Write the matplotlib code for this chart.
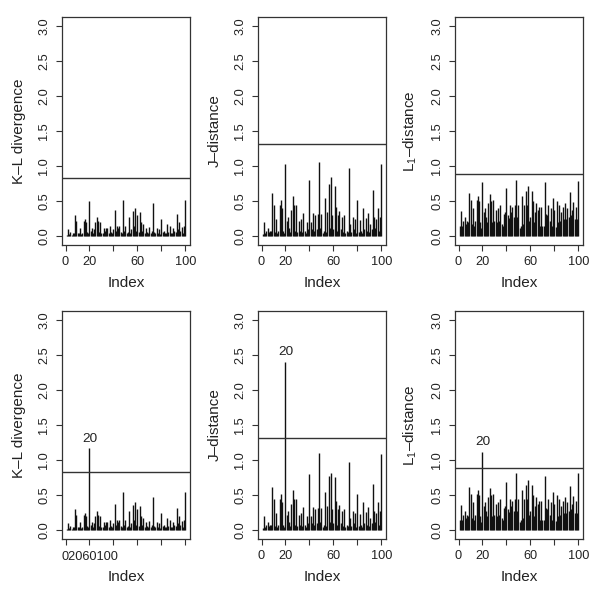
import numpy as np
import matplotlib
matplotlib.use("Agg")
import matplotlib.pyplot as plt
import matplotlib.transforms as mtransforms

plt.rcParams['font.family'] = ['Liberation Sans', 'DejaVu Sans']
plt.rcParams['mathtext.fontset'] = 'custom'
plt.rcParams['mathtext.rm'] = 'Liberation Sans'

index = np.arange(1, 101)

# top row values
kl_top = [0.02, 0.10, 0.03, 0.06, 0.02, 0.04, 0.05, 0.30, 0.22, 0.05,
          0.04, 0.12, 0.03, 0.05, 0.22, 0.25, 0.20, 0.06, 0.04, 0.50,
          0.08, 0.12, 0.05, 0.10, 0.20, 0.28, 0.22, 0.06, 0.21, 0.04,
          0.05, 0.12, 0.07, 0.12, 0.12, 0.05, 0.15, 0.06, 0.04, 0.10,
          0.38, 0.08, 0.15, 0.12, 0.14, 0.06, 0.05, 0.52, 0.08, 0.15,
          0.04, 0.06, 0.27, 0.05, 0.10, 0.36, 0.15, 0.40, 0.08, 0.30,
          0.06, 0.35, 0.20, 0.08, 0.17, 0.05, 0.12, 0.06, 0.04, 0.13,
          0.05, 0.07, 0.48, 0.06, 0.04, 0.12, 0.05, 0.10, 0.03, 0.25,
          0.06, 0.08, 0.04, 0.05, 0.18, 0.06, 0.15, 0.05, 0.04, 0.12,
          0.08, 0.06, 0.32, 0.10, 0.20, 0.07, 0.13, 0.05, 0.14, 0.51]

j_top = [0.03, 0.20, 0.05, 0.08, 0.12, 0.06, 0.07, 0.08, 0.62, 0.44,
         0.06, 0.25, 0.05, 0.07, 0.45, 0.52, 0.40, 0.08, 0.05, 1.03,
         0.22, 0.27, 0.12, 0.06, 0.38, 0.58, 0.45, 0.08, 0.45, 0.06,
         0.22, 0.07, 0.25, 0.06, 0.33, 0.08, 0.05, 0.20, 0.10, 0.80,
         0.20, 0.10, 0.33, 0.08, 0.30, 0.10, 0.32, 1.06, 0.12, 0.32,
         0.05, 0.08, 0.55, 0.06, 0.34, 0.74, 0.12, 0.85, 0.30, 0.10,
         0.72, 0.42, 0.08, 0.30, 0.36, 0.10, 0.27, 0.06, 0.30, 0.05,
         0.08, 0.06, 0.98, 0.17, 0.06, 0.28, 0.10, 0.25, 0.05, 0.52,
         0.06, 0.23, 0.08, 0.05, 0.40, 0.10, 0.26, 0.07, 0.33, 0.06,
         0.18, 0.10, 0.66, 0.28, 0.12, 0.25, 0.40, 0.08, 0.28, 1.03]

l1_top = [0.14, 0.36, 0.14, 0.22, 0.28, 0.18, 0.22, 0.20, 0.62, 0.52,
          0.18, 0.40, 0.15, 0.22, 0.52, 0.57, 0.50, 0.20, 0.12, 0.78,
          0.35, 0.40, 0.28, 0.20, 0.48, 0.60, 0.50, 0.20, 0.52, 0.22,
          0.38, 0.20, 0.40, 0.22, 0.45, 0.18, 0.15, 0.32, 0.35, 0.69,
          0.30, 0.26, 0.45, 0.35, 0.42, 0.27, 0.44, 0.80, 0.28, 0.44,
          0.12, 0.15, 0.58, 0.18, 0.45, 0.65, 0.45, 0.71, 0.22, 0.28,
          0.65, 0.50, 0.20, 0.35, 0.48, 0.38, 0.42, 0.15, 0.42, 0.14,
          0.15, 0.78, 0.32, 0.30, 0.44, 0.22, 0.40, 0.15, 0.55, 0.38,
          0.13, 0.50, 0.20, 0.45, 0.22, 0.35, 0.42, 0.24, 0.48, 0.25,
          0.40, 0.28, 0.63, 0.30, 0.38, 0.49, 0.25, 0.42, 0.25, 0.79]

# bottom row: same series with the contaminated case 20
kl_bot_changes = {20: 1.17, 48: 0.54, 100: 0.54}
j_bot_changes = {20: 2.40, 48: 1.10, 100: 1.09, 56: 0.77, 58: 0.82, 61: 0.76}
l1_bot_changes = {20: 1.12, 48: 0.81, 100: 0.81}

thresholds = [0.83, 1.32, 0.89]
ylabels = ['K\u2013L divergence', 'J\u2013distance',
           r'L$_{\mathregular{1}}$' + '\u2013distance']


def apply_changes(vals, changes):
    out = list(vals)
    for k, v in changes.items():
        out[k - 1] = v
    return out


series = [
    [kl_top, j_top, l1_top],
    [apply_changes(kl_top, kl_bot_changes),
     apply_changes(j_top, j_bot_changes),
     apply_changes(l1_top, l1_bot_changes)],
]

fig = plt.figure(figsize=(6.0, 5.91), dpi=100)
lefts = [62 / 600, 258 / 600, 455 / 600]
bottoms = [1 - 245 / 591, 1 - 539 / 591]
w = 128 / 600
h = 228 / 591

tick_fs = 9.2
lab_fs = 11

for r in range(2):
    for c in range(3):
        ax = fig.add_axes([lefts[c], bottoms[r], w, h])
        y = series[r][c]
        ax.vlines(index, 0, y, color='#111111', lw=1.0)
        ax.axhline(thresholds[c], color='#333333', lw=1.0)
        ax.set_xlim(-2.96, 103.96)
        ax.set_ylim(-0.124, 3.124)
        ax.set_yticks([0, 0.5, 1.0, 1.5, 2.0, 2.5, 3.0])
        ax.set_yticklabels(['0.0', '0.5', '1.0', '1.5', '2.0', '2.5', '3.0'],
                           rotation=90, va='center')
        ax.set_xticks([0, 20, 40, 60, 80, 100])
        if r == 1 and c == 0:
            ax.set_xticklabels([''] * 6)
            trans = mtransforms.blended_transform_factory(ax.transData, ax.transAxes)
            ax.text(20, -0.052, '02060100', ha='center', va='top',
                    fontsize=tick_fs, color='#222222', transform=trans)
        else:
            ax.set_xticklabels(['0', '20', '', '60', '', '100'])
        ax.tick_params(direction='out', length=4.3, width=0.8, colors='#333333',
                       labelsize=tick_fs, labelcolor='#222222')
        ax.tick_params(axis='y', pad=4)
        ax.tick_params(axis='x', pad=3.5)
        for s in ax.spines.values():
            s.set_color('#333333')
            s.set_linewidth(0.9)
        ax.set_xlabel('Index', fontsize=lab_fs, color='#222222')
        ax.set_ylabel(ylabels[c], fontsize=lab_fs, color='#222222')
        ax.xaxis.set_label_coords(0.5, -0.138)
        ax.yaxis.set_label_coords(-0.28, 0.5)
        if r == 1:
            ax.text(20, y[19] + 0.05, '20', ha='center', va='bottom',
                    fontsize=9.7, color='#222222')

fig.savefig('out.png', dpi=100)
